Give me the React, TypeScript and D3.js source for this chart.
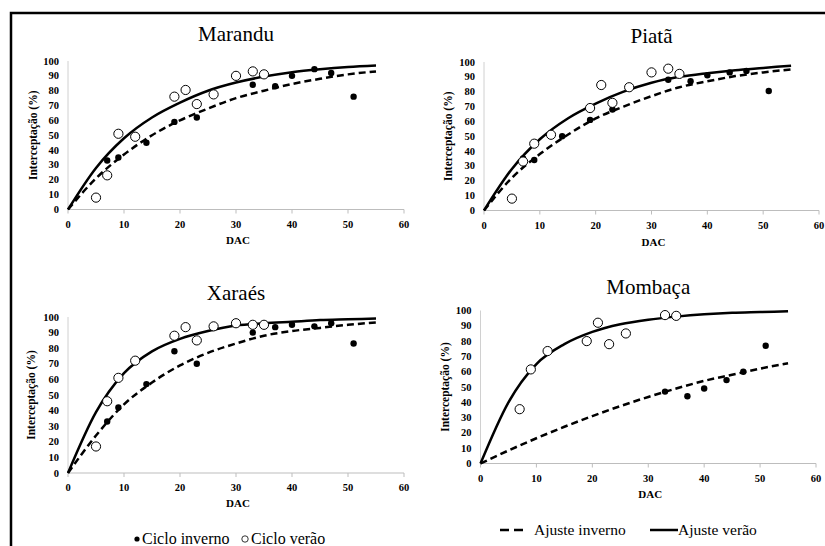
import React, { useEffect, useRef } from "react";
import * as d3 from "d3";

// observed points [DAC, interceptação %]
const maranduInverno = [[7, 33], [9, 35], [14, 45], [19, 59], [23, 62], [33, 84], [37, 83], [40, 90], [44, 94.5], [47, 92], [51, 76]];
const maranduVerao = [[5, 8], [7, 23], [9, 51], [12, 49], [19, 76], [21, 80.5], [23, 71], [26, 77.5], [30, 90], [33, 93], [35, 91]];
const piataInverno = [[7, 35], [9, 34], [14, 50], [19, 61], [23, 68], [33, 88], [37, 87], [40, 91], [44, 93], [47, 94], [51, 80.5]];
const piataVerao = [[5, 8], [7, 33], [9, 45], [12, 51], [19, 69], [21, 84.5], [23, 72.5], [26, 83], [30, 93], [33, 95.5], [35, 92]];
const xaraesInverno = [[7, 33], [9, 42], [14, 57], [19, 78], [23, 70], [33, 90], [37, 93.5], [40, 95], [44, 94], [47, 96], [51, 83]];
const xaraesVerao = [[5, 17], [7, 46], [9, 61], [12, 72], [19, 88], [21, 93.5], [23, 85], [26, 94], [30, 96], [33, 95], [35, 95]];
const mombacaInverno = [[33, 47], [37, 44], [40, 49], [44, 54.5], [47, 60], [51, 77]];
const mombacaVerao = [[7, 35.5], [9, 61.5], [12, 73.5], [19, 80], [21, 92], [23, 78], [26, 85], [33, 97], [35, 96.5]];

// fitted curves, every 5 days
const fitDays = [0, 5, 10, 15, 20, 25, 30, 35, 40, 45, 50, 55];
const maranduAjusteVerao = [0, 28, 48, 62, 72, 80, 85.5, 89.5, 92.5, 94.5, 96, 97];
const maranduAjusteInverno = [0, 21, 37, 50, 60, 68, 75, 80, 84.5, 88, 91, 93];
const piataAjusteVerao = [0, 28, 48, 62, 72, 80, 86, 90, 92.5, 94.5, 96, 97.5];
const piataAjusteInverno = [0, 22, 38, 51, 62, 70, 77, 83, 87, 90.5, 93, 95];
const xaraesAjusteVerao = [0, 39, 64, 78, 86, 91, 94.5, 96, 97, 98, 98.5, 99];
const xaraesAjusteInverno = [0, 24, 44, 58, 69, 77, 83, 88, 91, 93, 95, 96.5];
const mombacaAjusteVerao = [0, 40, 65, 78, 86, 91, 94, 96, 97.5, 98.5, 99, 99.5];
const mombacaAjusteInverno = [0, 8.5, 16.5, 24, 31, 37.5, 43.5, 49, 54, 58, 62, 65.5];

const xTicks = [0, 10, 20, 30, 40, 50, 60];
const yTicks = [0, 10, 20, 30, 40, 50, 60, 70, 80, 90, 100];

const panels = [
    { title: "Marandu", inv: maranduInverno, ver: maranduVerao, fitInv: maranduAjusteInverno, fitVer: maranduAjusteVerao,
      x0: 68, x1: 404, yTop: 61, yBot: 209.5, titleY: 41, dacY: 244, yLabX: 33 },
    { title: "Piatã", inv: piataInverno, ver: piataVerao, fitInv: piataAjusteInverno, fitVer: piataAjusteVerao,
      x0: 484, x1: 819, yTop: 62, yBot: 210.5, titleY: 43, dacY: 246, yLabX: 448 },
    { title: "Xaraés", inv: xaraesInverno, ver: xaraesVerao, fitInv: xaraesAjusteInverno, fitVer: xaraesAjusteVerao,
      x0: 68, x1: 404, yTop: 317, yBot: 473, titleY: 300, dacY: 507, yLabX: 31 },
    { title: "Mombaça", inv: mombacaInverno, ver: mombacaVerao, fitInv: mombacaAjusteInverno, fitVer: mombacaAjusteVerao,
      x0: 480.5, x1: 816, yTop: 310.5, yBot: 463.5, titleY: 294, dacY: 498, yLabX: 445 },
];

const serif = '"Liberation Serif", "DejaVu Serif", Times, serif';

export default function App() {
    const ref = useRef<SVGSVGElement>(null);

    useEffect(() => {
        const svg = d3.select(ref.current);
        svg.selectAll("*").remove();

        // outer frame (left + top)
        svg.append("path")
            .attr("d", "M11,546 L11,13 L825,13")
            .attr("fill", "none")
            .attr("stroke", "#000")
            .attr("stroke-width", 2.5);

        panels.forEach(p => {
            const g = svg.append("g");
            const x = d3.scaleLinear().domain([0, 60]).range([p.x0, p.x1]);
            const y = d3.scaleLinear().domain([0, 100]).range([p.yBot, p.yTop]);
            const cx = (p.x0 + p.x1) / 2;

            g.append("text")
                .attr("x", cx).attr("y", p.titleY)
                .attr("text-anchor", "middle")
                .style("font-family", serif).style("font-size", "21px")
                .text(p.title);

            // axes
            g.append("line")
                .attr("x1", x(0)).attr("x2", x(60))
                .attr("y1", y(0)).attr("y2", y(0))
                .attr("stroke", "#bdbdbd").attr("stroke-width", 1);
            g.append("line")
                .attr("x1", x(0)).attr("x2", x(0))
                .attr("y1", y(0)).attr("y2", y(100))
                .attr("stroke", "#d0d0d0").attr("stroke-width", 1);

            g.selectAll(".xt").data(xTicks).enter()
                .append("line")
                .attr("x1", d => x(d)).attr("x2", d => x(d))
                .attr("y1", y(0)).attr("y2", y(0) + 4)
                .attr("stroke", "#bdbdbd");

            g.selectAll(".xl").data(xTicks).enter()
                .append("text")
                .attr("x", d => x(d)).attr("y", y(0) + 18)
                .attr("text-anchor", "middle")
                .style("font-family", serif).style("font-size", "10.5px").style("font-weight", "bold")
                .text(d => d);

            g.selectAll(".yl").data(yTicks).enter()
                .append("text")
                .attr("x", x(0) - 9).attr("y", d => y(d) + 3.5)
                .attr("text-anchor", "end")
                .style("font-family", serif).style("font-size", "10.5px").style("font-weight", "bold")
                .text(d => d);

            g.append("text")
                .attr("x", x(30) + 2).attr("y", p.dacY)
                .attr("text-anchor", "middle")
                .style("font-family", serif).style("font-size", "11px").style("font-weight", "bold")
                .text("DAC");

            g.append("text")
                .attr("transform", `translate(${p.yLabX + 4},${(p.yTop + p.yBot) / 2}) rotate(-90)`)
                .attr("text-anchor", "middle")
                .style("font-family", serif).style("font-size", "11.5px").style("font-weight", "bold")
                .text("Interceptação (%)");

            const line = d3.line<number>()
                .x((d, i) => x(fitDays[i]))
                .y(d => y(d))
                .curve(d3.curveMonotoneX);

            g.append("path")
                .attr("d", line(p.fitInv))
                .attr("fill", "none").attr("stroke", "#000")
                .attr("stroke-width", 2.5)
                .attr("stroke-dasharray", "7,4");

            g.append("path")
                .attr("d", line(p.fitVer))
                .attr("fill", "none").attr("stroke", "#000")
                .attr("stroke-width", 2.5);

            g.selectAll(".inv").data(p.inv).enter()
                .append("circle")
                .attr("cx", d => x(d[0])).attr("cy", d => y(d[1]))
                .attr("r", 3.2)
                .attr("fill", "#000");

            g.selectAll(".ver").data(p.ver).enter()
                .append("circle")
                .attr("cx", d => x(d[0])).attr("cy", d => y(d[1]))
                .attr("r", 4.6)
                .attr("fill", "#fff").attr("stroke", "#000").attr("stroke-width", 1);
        });

        // legends
        const leg = svg.append("g").style("font-family", serif);
        leg.append("circle").attr("cx", 137).attr("cy", 539).attr("r", 2.6).attr("fill", "#000");
        leg.append("text").attr("x", 142).attr("y", 544).style("font-size", "16px").text("Ciclo inverno");
        leg.append("circle").attr("cx", 245).attr("cy", 539).attr("r", 3.2)
            .attr("fill", "#fff").attr("stroke", "#000").attr("stroke-width", 0.8);
        leg.append("text").attr("x", 251).attr("y", 544).style("font-size", "16px").text("Ciclo verão");

        leg.append("line").attr("x1", 500).attr("x2", 527).attr("y1", 530).attr("y2", 530)
            .attr("stroke", "#000").attr("stroke-width", 2.5).attr("stroke-dasharray", "9,5");
        leg.append("text").attr("x", 534).attr("y", 535).style("font-size", "15.5px").text("Ajuste inverno");
        leg.append("line").attr("x1", 650).attr("x2", 678).attr("y1", 530).attr("y2", 530)
            .attr("stroke", "#000").attr("stroke-width", 2.5);
        leg.append("text").attr("x", 678).attr("y", 535).style("font-size", "15.5px").text("Ajuste verão");
    }, []);

    return (
        <svg ref={ref} width={825} height={546}
            style={{ position: "absolute", left: 0, top: 0, background: "#fff" }} />
    );
}
